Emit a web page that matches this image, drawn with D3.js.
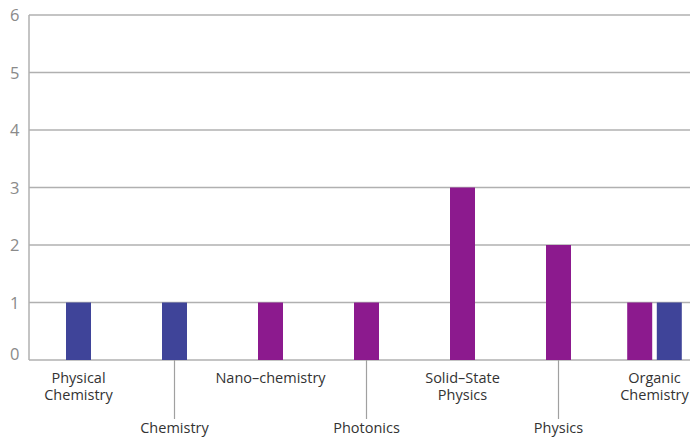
<!DOCTYPE html>
<html><head><meta charset="utf-8">
<script src="https://cdn.jsdelivr.net/npm/d3@7"></script>
<style>
html,body{margin:0;padding:0;background:#fff;overflow:hidden}
svg{display:block;font-family:"Open Sans",sans-serif}
</style></head>
<body><svg id="c" width="690" height="437"></svg>
<script>
const categories = [["Physical","Chemistry"],["Chemistry"],["Nano\u2013chemistry"],["Photonics"],["Solid\u2013State","Physics"],["Physics"],["Organic","Chemistry"]];
const seriesNames = ["Purple","Blue"];
const purpleValues = [0,0,1,1,3,2,1];
const blueValues = [1,1,0,0,0,0,1];
const yTicks = [0,1,2,3,4,5,6];
const colors = {Purple:"#8c1a8e", Blue:"#3f4499"};

const svg = d3.select("#c");
const keys = categories.map((c,i)=>i);
const x = d3.scaleBand().domain(keys).range([30.5, 702.5]).padding(0);
const y = d3.scaleLinear().domain([0,6]).range([360,15]);
const barW = 25, gap = 3;

// gridlines
svg.append("g").selectAll("line").data(yTicks).join("line")
  .attr("x1",29).attr("x2",690).attr("y1",d=>y(d)).attr("y2",d=>y(d))
  .attr("stroke","#b0b0b0").attr("stroke-width",1.5);
// y axis line
svg.append("line").attr("x1",29).attr("x2",29).attr("y1",y(6)).attr("y2",y(0))
  .attr("stroke","#b0b0b0").attr("stroke-width",1.5);
// y tick labels
svg.append("g").selectAll("text").data(yTicks).join("text")
  .attr("x",19.5).attr("y",d=>d===0 ? y(d) : y(d)+6).attr("text-anchor","end")
  .attr("font-size",16.5).attr("fill","#8a8a8a").text(d=>d);

// bars
const valuesBy = {Purple:purpleValues, Blue:blueValues};
keys.forEach(i=>{
  const present = seriesNames.filter(s=>valuesBy[s][i]>0);
  const total = present.length*barW + (present.length-1)*gap;
  const x1 = d3.scaleBand().domain(present).range([-total/2 - gap/2, total/2 + gap/2]).paddingInner(gap/(barW+gap)).paddingOuter(0);
  const cx = x(i) + x.bandwidth()/2;
  svg.append("g").selectAll("rect").data(present).join("rect")
    .attr("x",s=>cx + x1(s) + (x1.step()-barW)/2 - (x1.step()-x1.bandwidth())/2)
    .attr("width",barW)
    .attr("y",s=>y(valuesBy[s][i]))
    .attr("height",s=>y(0)-y(valuesBy[s][i]))
    .attr("fill",s=>colors[s]);
});

// x labels
keys.forEach(i=>{
  const cx = x(i) + x.bandwidth()/2;
  const low = i%2===1;
  if(low){
    svg.append("line").attr("x1",cx).attr("x2",cx).attr("y1",360).attr("y2",419)
      .attr("stroke","#a0a0a0").attr("stroke-width",1.2);
  }
  const t = svg.append("text").attr("text-anchor","middle").attr("font-size",14.5).attr("fill","#333");
  categories[i].forEach((line,j)=>{
    t.append("tspan").attr("x",cx).attr("y",(low?433:383)+j*17).text(line);
  });
});
</script></body></html>
